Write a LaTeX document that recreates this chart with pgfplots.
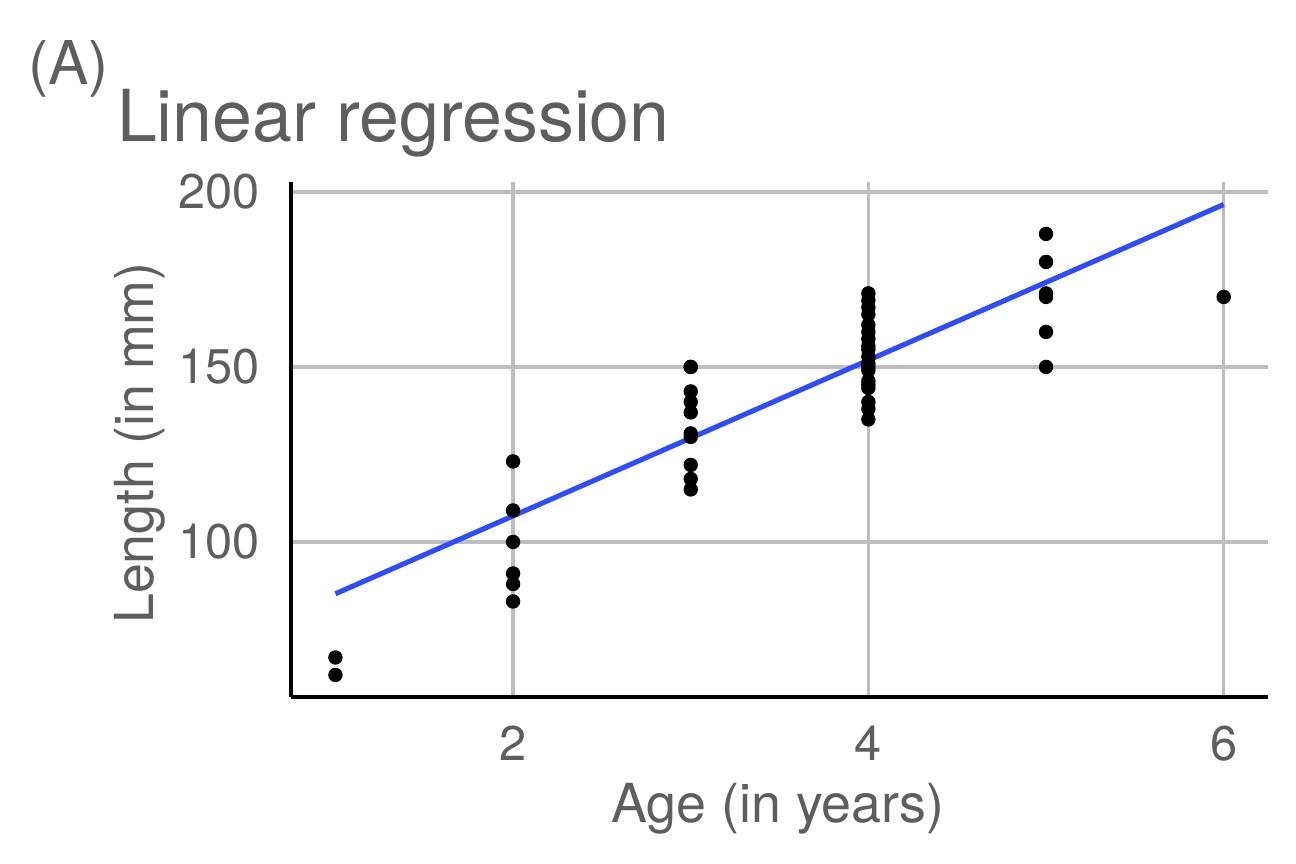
\documentclass[border=0pt]{standalone}
\usepackage{pgfplots}
\pgfplotsset{compat=1.18}
\usepackage{fontspec}
\setmainfont{TeX Gyre Heros}
\definecolor{txtgray}{RGB}{94,94,94}
\definecolor{gridgray}{RGB}{190,190,190}
\definecolor{fitblue}{RGB}{45,75,255}
\begin{document}
\begin{tikzpicture}
\useasboundingbox (0,0) rectangle (432bp,288bp);
\begin{axis}[
  at={(97bp,55.67bp)}, anchor=south west,
  scale only axis, width=325.7bp, height=171.7bp,
  xmin=0.75, xmax=6.25, ymin=55.71, ymax=202.86,
  xtick={2,4,6}, ytick={100,150,200},
  major tick length=0pt,
  grid=major,
  major grid style={gridgray, line width=1.2bp},
  axis lines*=left,
  axis line style={black, line width=1.2bp, -},
  /pgf/number format/assume math mode=true,
  tick label style={font=\fontsize{16.3}{19}\selectfont, text=txtgray},
  yticklabel style={anchor=east, inner sep=0pt, xshift=-10.3bp},
  xticklabel style={anchor=north, inner sep=0pt, yshift=-9.3bp},
  clip=false,
]
\addplot[only marks, mark=*, mark size=2.2bp, black] coordinates {
 (1,67) (1,62)
 (2,123) (2,109) (2,100) (2,91) (2,88) (2,83)
 (3,150) (3,150) (3,143) (3,140) (3,137) (3,131) (3,130) (3,122) (3,118) (3,115)
 (4,171) (4,169) (4,167) (4,165) (4,162) (4,160) (4,158) (4,156) (4,155)
 (4,153) (4,151) (4,150) (4,149) (4,146) (4,145) (4,144) (4,140) (4,138) (4,135)
 (5,188) (5,180) (5,171) (5,170) (5,160) (5,150)
 (6,170)
};
\addplot[fitblue, line width=1.7bp] coordinates {(1,85.2) (6,196.4)};
\end{axis}
\node[anchor=base west, inner sep=0pt, text=txtgray, font=\fontsize{20.2}{24}\selectfont] at (9.3bp,259.7bp) {(A)};
\node[anchor=base west, inner sep=0pt, text=txtgray, font=\fontsize{24}{28}\selectfont] at (38.8bp,240.7bp) {Linear regression};
\node[anchor=base, inner sep=0pt, text=txtgray, font=\fontsize{18}{21}\selectfont] at (259.3bp,13.7bp) {Age (in years)};
\node[anchor=base, rotate=90, inner sep=0pt, text=txtgray, font=\fontsize{18}{21}\selectfont] at (51bp,140.3bp) {Length (in mm)};
\end{tikzpicture}
\end{document}
